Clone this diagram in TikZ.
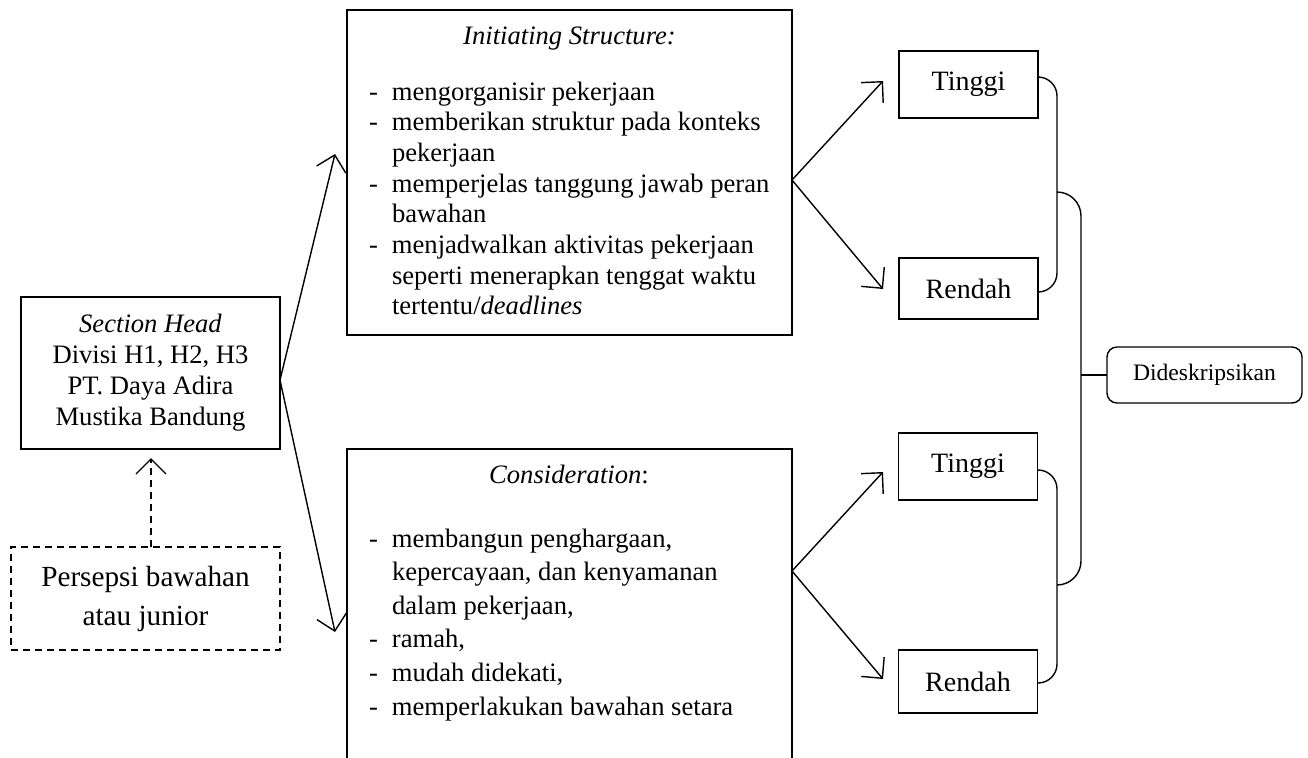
\documentclass[tikz,border=0pt]{standalone}
\usepackage{fontspec}
\setmainfont{Liberation Serif}
\usetikzlibrary{arrows.meta,calc}
\begin{document}
\begin{tikzpicture}[x=0.5pt,y=-0.5pt,
  every node/.style={inner sep=0pt, outer sep=0pt},
  ln/.style={line width=0.7pt},
  arr/.style={ln, -{Straight Barb[length=7.5pt,width=15pt]}},
  body/.style={font=\fontsize{13.3}{15.35}\selectfont},
  big/.style={font=\fontsize{14}{16}\selectfont},
  valbox/.style={draw, ln, minimum width=69.5pt, big},
]
\useasboundingbox (0,0) rectangle (1308,757);

% left column
\node[draw, ln, minimum width=129.5pt, minimum height=76pt, align=center,
      font=\fontsize{13.3}{15.5}\selectfont] (sh) at (150.5,373)
  {\textit{Section Head}\\Divisi H1, H2, H3\\PT. Daya Adira\\Mustika Bandung};
\node[draw, ln, dash pattern=on 3.5pt off 2.5pt, minimum width=134.5pt, minimum height=51.5pt,
      align=center, font=\fontsize{14.6}{19.5}\selectfont] (pb) at (145.5,598.5)
  {Persepsi bawahan\\atau junior};

% Initiating Structure box
\node[draw, ln, minimum width=222.5pt, minimum height=162.5pt] (init) at (569.5,172.5) {};
\node[anchor=base, body] (initT) at (569.5,44) {\textit{Initiating Structure:}};
\node[anchor=base west, body] (initL) at (369,100) {\begin{tabular}[t]{@{}p{11.5pt}@{}l@{}}
-& mengorganisir pekerjaan\\
-& memberikan struktur pada konteks\\
 & pekerjaan\\
-& memperjelas tanggung jawab peran\\
 & bawahan\\
-& menjadwalkan aktivitas pekerjaan\\
 & seperti menerapkan tenggat waktu\\
 & tertentu/\textit{deadlines}
\end{tabular}};

% Consideration box (open at the bottom of the picture)
\node[minimum width=222.5pt, minimum height=155.5pt] (cons) at (569.5,604.5) {};
\draw[ln] (cons.south west) -- (cons.north west) -- (cons.north east) -- (cons.south east);
\node[anchor=base, body] (consT) at (569,483) {\textit{Consideration}:};
\node[anchor=base west, font=\fontsize{13.3}{16.8}\selectfont] (consL) at (369,547) {\begin{tabular}[t]{@{}p{11.5pt}@{}l@{}}
-& membangun penghargaan,\\
 & kepercayaan, dan kenyamanan\\
 & dalam pekerjaan,\\
-& ramah,\\
-& mudah didekati,\\
-& memperlakukan bawahan setara
\end{tabular}};

% value boxes
\node[valbox, minimum height=33.5pt] (t1) at (968.5,84.5) {Tinggi};
\node[valbox, minimum height=30.5pt] (r1) at (968.5,288.5) {Rendah};
\node[valbox, minimum height=33.5pt] (t2) at (968,466.5) {Tinggi};
\node[valbox, minimum height=31.5pt] (r2) at (968,681.5) {Rendah};

\node[draw, ln, rounded corners=5pt, minimum width=97.5pt, minimum height=28pt,
      font=\fontsize{11.8}{14}\selectfont] (dd) at (1204.5,375) {Dideskripsikan};

% arrows from Section Head
\coordinate (shR) at ($(sh.east)+(0,7)$);
\coordinate (tipA) at (335,154);
\coordinate (tipB) at (335,632);
\draw[arr] (shR) -- (tipA);
\draw[arr] (shR) -- (tipB);

% dashed arrow
\coordinate (pbT) at (151,547);
\coordinate (shB) at (151,458);
\draw[arr, dash pattern=on 3.5pt off 2.5pt] (pbT) -- (shB);

% arrows to value boxes
\coordinate (initR) at (792,180);
\coordinate (tA1) at (883,81);
\coordinate (tA2) at (883,289);
\draw[arr] (initR) -- (tA1);
\draw[arr] (initR) -- (tA2);
\coordinate (consR) at (792,571);
\coordinate (tB1) at (883,472);
\coordinate (tB2) at (883,679);
\draw[arr] (consR) -- (tB1);
\draw[arr] (consR) -- (tB2);

% braces
\coordinate (b1a) at (t1.east |- 0,77);
\coordinate (b1b) at (r1.east |- 0,292);
\draw[ln, rounded corners=9.5pt] (b1a) -- (1057,77) -- (1057,292) -- (b1b);
\coordinate (b2a) at (t2.east |- 0,470);
\coordinate (b2b) at (r2.east |- 0,683);
\draw[ln, rounded corners=9.5pt] (b2a) -- (1057,470) -- (1057,683) -- (b2b);
\coordinate (tip1) at (1057,192);
\coordinate (tip2) at (1057,585);
\draw[ln, rounded corners=12pt] (tip1) -- (1081,192) -- (1081,585) -- (tip2);
\coordinate (bigM) at (1081,375);
\draw[ln] (bigM) -- (dd.west);
\end{tikzpicture}
\end{document}
